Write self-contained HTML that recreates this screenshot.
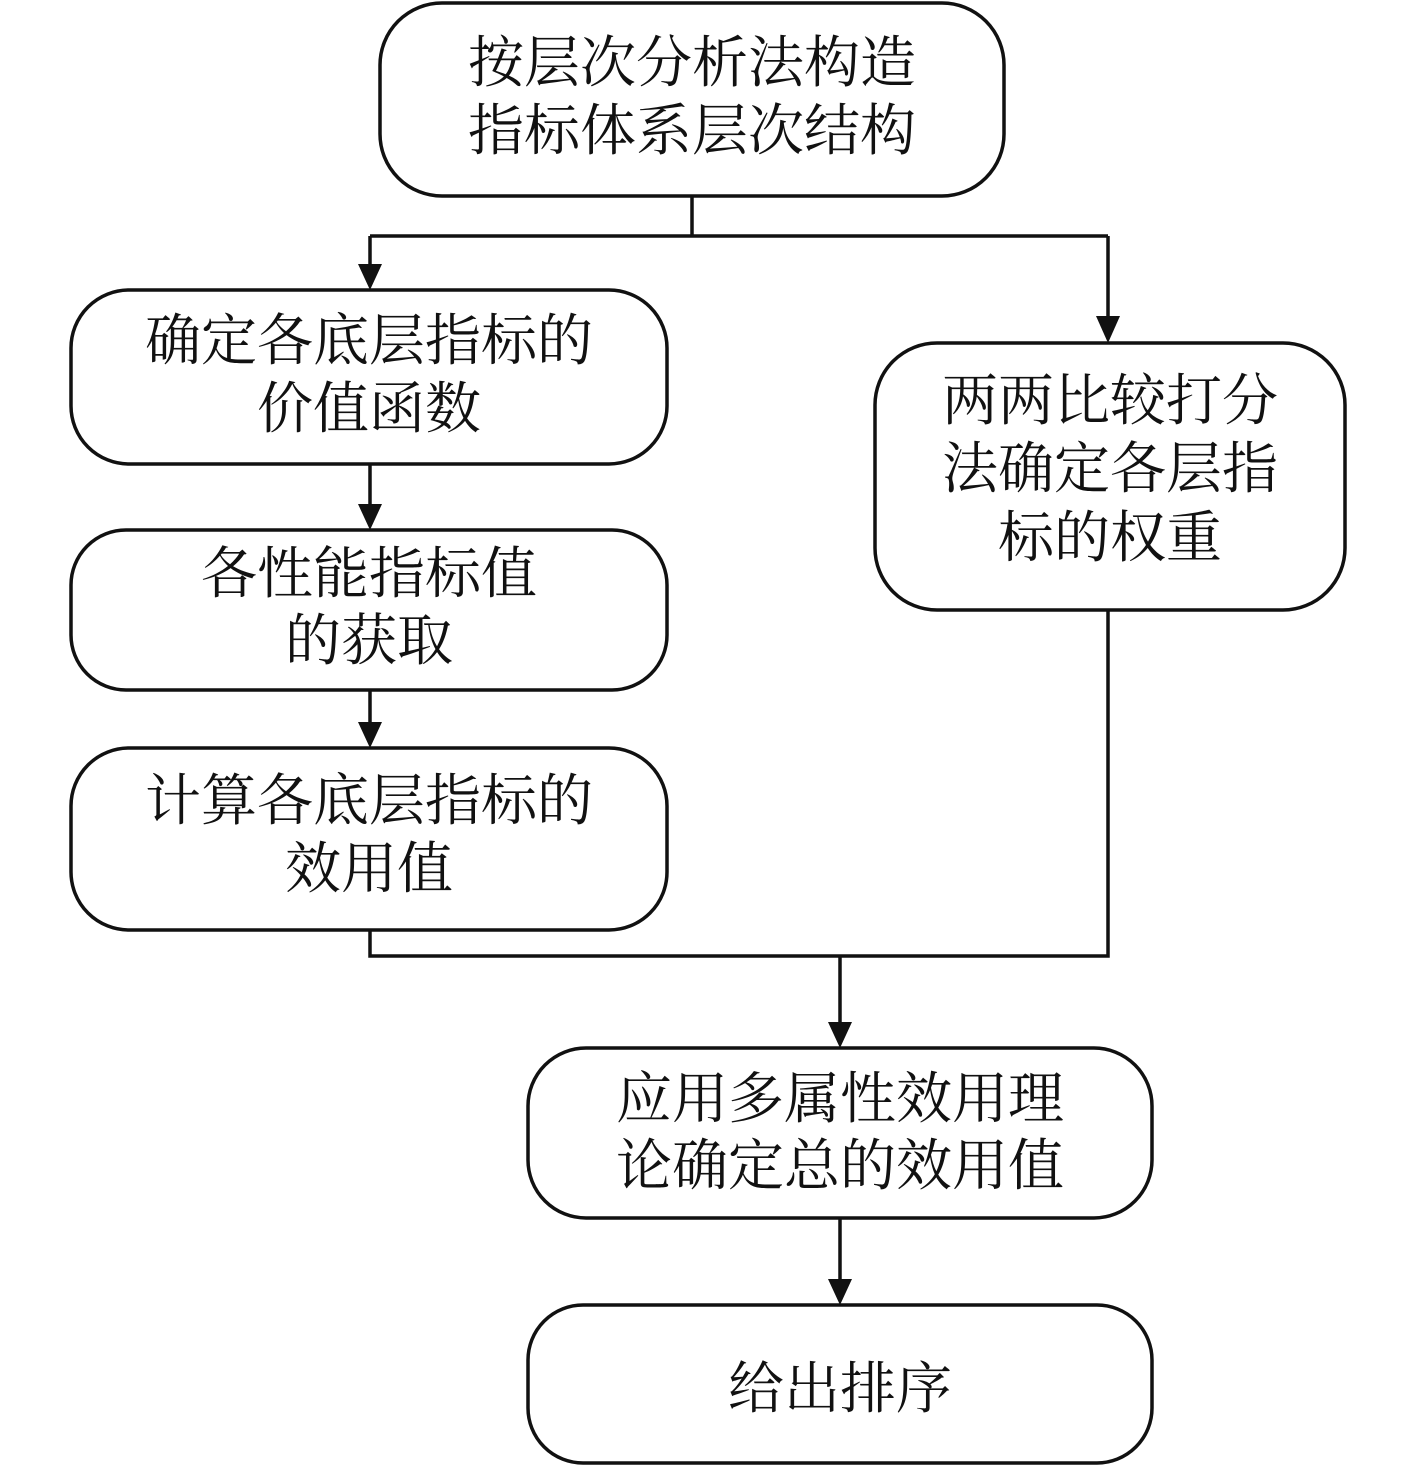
<!DOCTYPE html>
<html><head><meta charset="utf-8"><style>
html,body{margin:0;padding:0;background:#fff}
svg{display:block}
text{font-family:"Liberation Serif","Noto Serif CJK SC",serif;font-size:56px;fill:#111;text-anchor:middle}
</style></head><body>
<svg width="1417" height="1465" viewBox="0 0 1417 1465" xmlns="http://www.w3.org/2000/svg">
<defs><marker id="a" markerWidth="12" markerHeight="14" refX="6" refY="14" orient="auto" markerUnits="userSpaceOnUse" viewBox="0 0 12 14"><path d="M0,0 L12,0 L6,14 Z" fill="#111"/></marker></defs>
<g fill="none" stroke="#111" stroke-width="3.5">
<rect x="380" y="3" width="624" height="193" rx="62"/>
<rect x="71" y="290" width="596" height="174" rx="58"/>
<rect x="71" y="530" width="596" height="160" rx="55"/>
<rect x="71" y="748" width="596" height="182" rx="58"/>
<rect x="875" y="343" width="470" height="267" rx="62"/>
<rect x="528" y="1048" width="624" height="170" rx="58"/>
<rect x="528" y="1305" width="624" height="158" rx="55"/>
<path d="M692 196 V236 M370 236 H1108"/>
<path d="M370 236 V266" />
<path d="M1108 236 V318" />
<path d="M370 464 V506" />
<path d="M370 690 V724" />
<path d="M370 930 V956 H1108 V610 M840 956 V1024" />
<path d="M840 1218 V1281" />
</g>
<g fill="#111">
<path d="M358 264 L382 264 L370 290 Z"/>
<path d="M1096 316 L1120 316 L1108 343 Z"/>
<path d="M358 504 L382 504 L370 530 Z"/>
<path d="M358 722 L382 722 L370 748 Z"/>
<path d="M828 1022 L852 1022 L840 1048 Z"/>
<path d="M828 1279 L852 1279 L840 1305 Z"/>
</g>
<text x="692" y="82">按层次分析法构造</text>
<text x="692" y="150">指标体系层次结构</text>
<text x="369" y="360">确定各底层指标的</text>
<text x="369" y="428">价值函数</text>
<text x="369" y="593">各性能指标值</text>
<text x="369" y="660">的获取</text>
<text x="369" y="820">计算各底层指标的</text>
<text x="369" y="888">效用值</text>
<text x="1110" y="420">两两比较打分</text>
<text x="1110" y="488">法确定各层指</text>
<text x="1110" y="557">标的权重</text>
<text x="840" y="1118">应用多属性效用理</text>
<text x="840" y="1185">论确定总的效用值</text>
<text x="840" y="1408">给出排序</text>
</svg>
</body></html>
